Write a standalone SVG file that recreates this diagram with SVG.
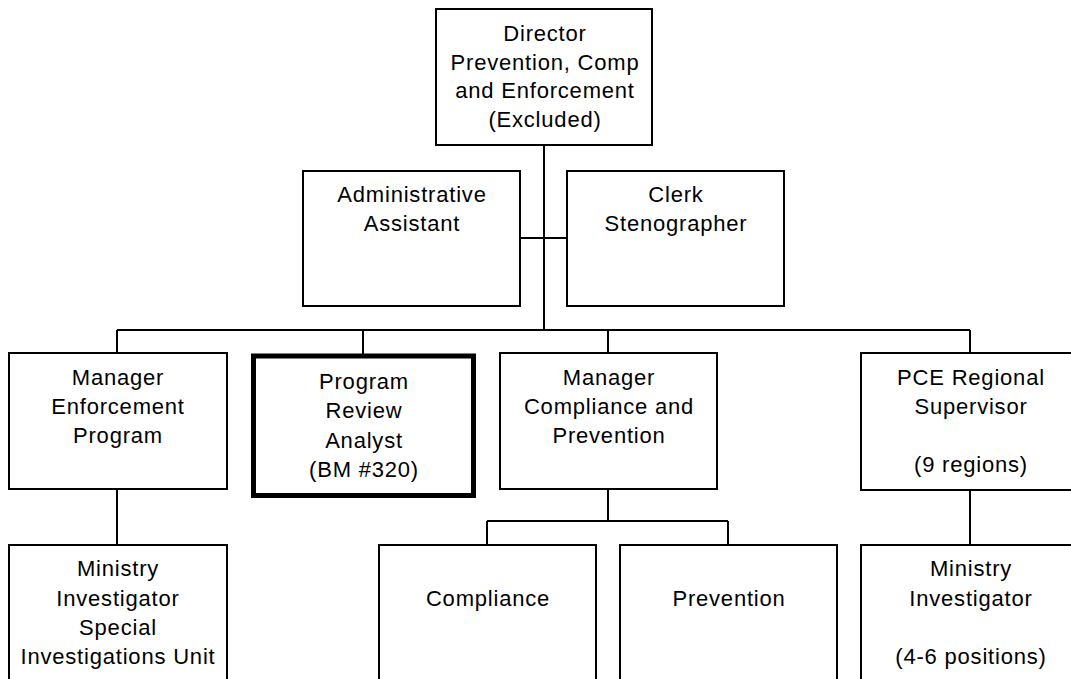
<svg xmlns="http://www.w3.org/2000/svg" width="1071" height="679" viewBox="0 0 1071 679">
<style>
.box{fill:#fff;stroke:#000;stroke-width:2}
.thick{fill:#fff;stroke:#000;stroke-width:5}
.ln{fill:none;stroke:#000;stroke-width:2}
text{font-family:"Liberation Sans",Arial,sans-serif;font-size:22px;letter-spacing:0.8px;fill:#000;text-anchor:middle}
</style>
<rect width="1071" height="679" fill="#fff"/>
<g id="connectors">
<path class="ln" d="M544 145V330M520 238H567M117 330H970M117 330V353M363 330V354M608 330V353M970 330V353M117 489V545M608 489V521M487 521H728M487 521V545M728 521V545M970 489V545"/>
</g>
<g id="director"><rect class="box" x="436" y="9" width="216" height="136"/>
<text x="545" y="41">Director</text><text x="545" y="69.5">Prevention, Comp</text><text x="545" y="98">and Enforcement</text><text x="545" y="126.5">(Excluded)</text></g>
<g id="admin"><rect class="box" x="303" y="171" width="217" height="135"/>
<text x="412" y="202">Administrative</text><text x="412" y="231">Assistant</text></g>
<g id="clerk"><rect class="box" x="567" y="171" width="217" height="135"/>
<text x="676" y="202">Clerk</text><text x="676" y="231">Stenographer</text></g>
<g id="mgr-enf"><rect class="box" x="9" y="353" width="218" height="136"/>
<text x="118" y="385">Manager</text><text x="118" y="414">Enforcement</text><text x="118" y="443">Program</text></g>
<g id="pra"><rect class="thick" x="253.5" y="356" width="220" height="139.5"/>
<text x="364" y="389">Program</text><text x="364" y="418">Review</text><text x="364" y="448">Analyst</text><text x="364" y="477">(BM #320)</text></g>
<g id="mgr-comp"><rect class="box" x="500" y="353" width="217" height="136"/>
<text x="609" y="385">Manager</text><text x="609" y="414">Compliance and</text><text x="609" y="443">Prevention</text></g>
<g id="pce"><rect class="box" x="861" y="353" width="218" height="137"/>
<text x="971" y="385">PCE Regional</text><text x="971" y="414">Supervisor</text><text x="971" y="472">(9 regions)</text></g>
<g id="min-siu"><rect class="box" x="9" y="545" width="218" height="145"/>
<text x="118" y="576">Ministry</text><text x="118" y="606">Investigator</text><text x="118" y="635">Special</text><text x="118" y="664">Investigations Unit</text></g>
<g id="compliance"><rect class="box" x="379" y="545" width="217" height="145"/>
<text x="488" y="606">Compliance</text></g>
<g id="prevention"><rect class="box" x="620" y="545" width="217" height="145"/>
<text x="729" y="606">Prevention</text></g>
<g id="min-inv"><rect class="box" x="861" y="545" width="218" height="145"/>
<text x="971" y="576">Ministry</text><text x="971" y="606">Investigator</text><text x="971" y="664">(4-6 positions)</text></g>
</svg>
